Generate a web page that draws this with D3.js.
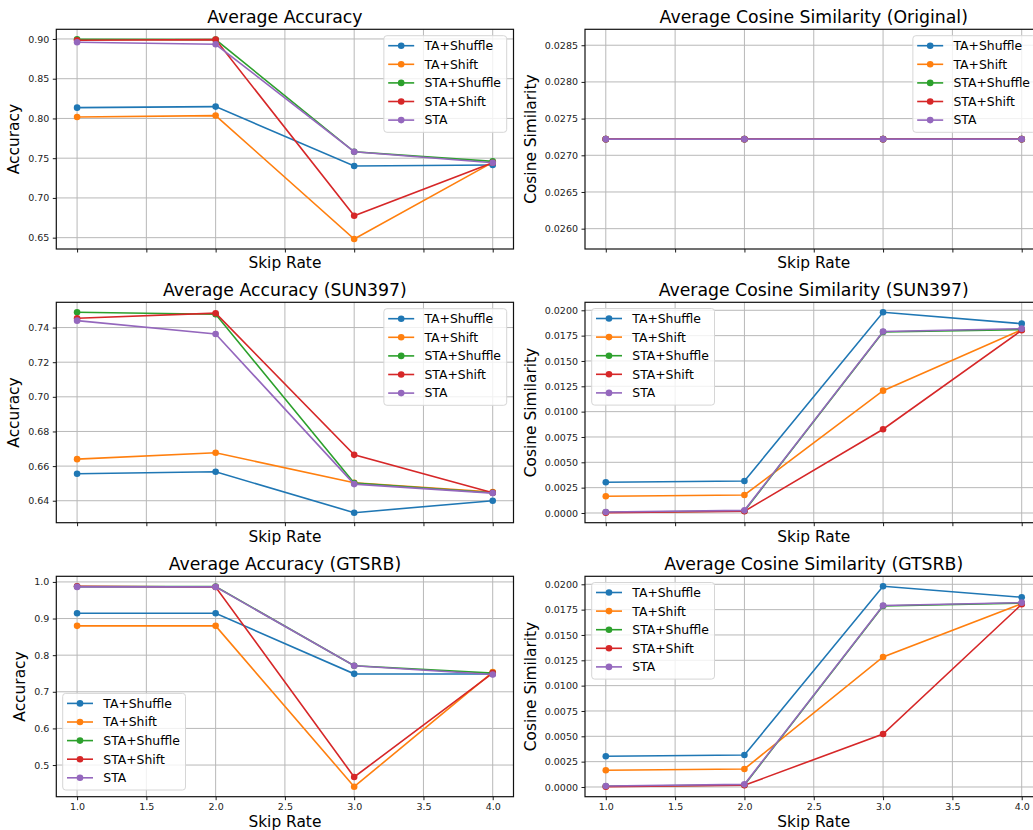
<!DOCTYPE html>
<html lang="en">
<head>
<meta charset="utf-8">
<title>Skip rate comparison</title>
<script src="https://cdn.jsdelivr.net/npm/d3@7"></script>
<style>
  html, body { margin: 0; padding: 0; background: #fff; overflow: hidden; }
  svg { display: block; }
</style>
</head>
<body>
<script>
  var W = 1033, H = 830;
  var FONT = "DejaVu Sans";

  // ---- data ----
  var skipRates = [1, 2, 3, 4];
  var series = ["TA+Shuffle", "TA+Shift", "STA+Shuffle", "STA+Shift", "STA"];
  var colors = ["#1f77b4", "#ff7f0e", "#2ca02c", "#d62728", "#9467bd"];

  var accAvg = [
    [0.8136, 0.8149, 0.7402, 0.7414],
    [0.8019, 0.8036, 0.6483, 0.7447],
    [0.8996, 0.8992, 0.7581, 0.7460],
    [0.8983, 0.8992, 0.6775, 0.7443],
    [0.8958, 0.8933, 0.7581, 0.7443]
  ];
  var cosOrig = [
    [0.02722, 0.02722, 0.02722, 0.02722],
    [0.02722, 0.02722, 0.02722, 0.02722],
    [0.02722, 0.02722, 0.02722, 0.02722],
    [0.02722, 0.02722, 0.02722, 0.02722],
    [0.02722, 0.02722, 0.02722, 0.02722]
  ];
  var accSun = [
    [0.6556, 0.6567, 0.6331, 0.6400],
    [0.6640, 0.6677, 0.6504, 0.6450],
    [0.7488, 0.7477, 0.6502, 0.6446],
    [0.7454, 0.7483, 0.6665, 0.6446],
    [0.7440, 0.7363, 0.6496, 0.6444]
  ];
  var cosSun = [
    [0.00303, 0.00316, 0.01980, 0.01868],
    [0.00165, 0.00178, 0.01207, 0.01809],
    [0.00007, 0.00020, 0.01786, 0.01810],
    [0.00003, 0.00017, 0.00826, 0.01803],
    [0.00010, 0.00026, 0.01790, 0.01819]
  ];
  var accGts = [
    [0.9145, 0.9145, 0.7490, 0.7485],
    [0.8800, 0.8800, 0.4409, 0.7536],
    [0.9873, 0.9873, 0.7710, 0.7510],
    [0.9880, 0.9860, 0.4673, 0.7510],
    [0.9864, 0.9864, 0.7710, 0.7473]
  ];
  var cosGts = [
    [0.00303, 0.00316, 0.01980, 0.01872],
    [0.00165, 0.00178, 0.01283, 0.01809],
    [0.00007, 0.00020, 0.01786, 0.01815],
    [0.00003, 0.00017, 0.00523, 0.01803],
    [0.00010, 0.00026, 0.01790, 0.01819]
  ];

  var xTicks = [1.0, 1.5, 2.0, 2.5, 3.0, 3.5, 4.0];
  var yTicksAccAvg = [0.65, 0.70, 0.75, 0.80, 0.85, 0.90];
  var yTicksCosOrig = [0.0260, 0.0265, 0.0270, 0.0275, 0.0280, 0.0285];
  var yTicksAccSun = [0.64, 0.66, 0.68, 0.70, 0.72, 0.74];
  var yTicksCos = [0.0, 0.0025, 0.0050, 0.0075, 0.0100, 0.0125, 0.0150, 0.0175, 0.0200];
  var yTicksAccGts = [0.5, 0.6, 0.7, 0.8, 0.9, 1.0];

  // ---- layout ----
  var cols = [[56.3, 513.5], [585, 1042.5]];
  var rows = [[29.3, 249], [302.3, 522.7], [576.3, 796.7]];

  var panels = [
    {title: "Average Accuracy", ylab: "Accuracy", data: accAvg, ticks: yTicksAccAvg, fmt: ".2f", leg: "ur", c: 0, r: 0},
    {title: "Average Cosine Similarity (Original)", ylab: "Cosine Similarity", data: cosOrig, ticks: yTicksCosOrig, fmt: ".4f", leg: "ur", c: 1, r: 0},
    {title: "Average Accuracy (SUN397)", ylab: "Accuracy", data: accSun, ticks: yTicksAccSun, fmt: ".2f", leg: "ur", c: 0, r: 1},
    {title: "Average Cosine Similarity (SUN397)", ylab: "Cosine Similarity", data: cosSun, ticks: yTicksCos, fmt: ".4f", leg: "ul", c: 1, r: 1},
    {title: "Average Accuracy (GTSRB)", ylab: "Accuracy", data: accGts, ticks: yTicksAccGts, fmt: ".1f", leg: "ll", c: 0, r: 2},
    {title: "Average Cosine Similarity (GTSRB)", ylab: "Cosine Similarity", data: cosGts, ticks: yTicksCos, fmt: ".4f", leg: "ul", c: 1, r: 2}
  ];

  // matplotlib-like auto limits (5% margins, expand flat data)
  function autoDomain(vals) {
    var lo = d3.min(vals), hi = d3.max(vals);
    if (hi - lo < 1e-12) { lo = lo - 0.05 * Math.abs(lo); hi = hi + 0.05 * Math.abs(hi); }
    var m = (hi - lo) * 0.05;
    return [lo - m, hi + m];
  }

  var svg = d3.select("body").append("svg")
      .attr("width", W)
      .attr("height", H);

  panels.forEach(function(p) {
    var x0 = cols[p.c][0], x1 = cols[p.c][1];
    var y0 = rows[p.r][0], y1 = rows[p.r][1];
    var bottomRow = p.r === 2;

    var x = d3.scaleLinear().domain(autoDomain(skipRates)).range([x0, x1]);
    var y = d3.scaleLinear().domain(autoDomain(d3.merge(p.data))).range([y1, y0]);

    var g = svg.append("g").attr("class", "panel");

    // grid
    g.append("g").selectAll("line").data(xTicks).enter().append("line")
      .attr("x1", function(d) { return x(d); }).attr("x2", function(d) { return x(d); })
      .attr("y1", y0).attr("y2", y1)
      .attr("stroke", "#b8b8b8").attr("stroke-width", 1);
    g.append("g").selectAll("line").data(p.ticks).enter().append("line")
      .attr("y1", function(d) { return y(d); }).attr("y2", function(d) { return y(d); })
      .attr("x1", x0).attr("x2", x1)
      .attr("stroke", "#b8b8b8").attr("stroke-width", 1);

    // axes
    var xa = g.append("g").attr("transform", "translate(0," + y1 + ")")
      .call(d3.axisBottom(x).tickValues(xTicks).tickSize(3.5).tickPadding(3.5)
        .tickFormat(bottomRow ? d3.format(".1f") : function() { return ""; }));
    var ya = g.append("g").attr("transform", "translate(" + x0 + ",0)")
      .call(d3.axisLeft(y).tickValues(p.ticks).tickSize(3.5).tickPadding(3.5)
        .tickFormat(d3.format(p.fmt)));
    [xa, ya].forEach(function(a) {
      a.attr("font-family", FONT).attr("font-size", 9.5);
      a.select(".domain").remove();
      a.selectAll(".tick line").attr("stroke", "#000").attr("stroke-width", 0.9);
      a.selectAll(".tick text").attr("fill", "#222");
    });

    // series
    var line = d3.line()
      .x(function(d, i) { return x(skipRates[i]); })
      .y(function(d) { return y(d); });

    p.data.forEach(function(vals, si) {
      var sg = g.append("g");
      sg.append("path").datum(vals)
        .attr("d", line)
        .attr("fill", "none")
        .attr("stroke", colors[si])
        .attr("stroke-width", 1.6);
      sg.selectAll("circle").data(vals).enter().append("circle")
        .attr("cx", function(d, i) { return x(skipRates[i]); })
        .attr("cy", function(d) { return y(d); })
        .attr("r", 3.3)
        .attr("fill", colors[si]);
    });

    // spines
    g.append("rect")
      .attr("x", x0).attr("y", y0)
      .attr("width", x1 - x0).attr("height", y1 - y0)
      .attr("fill", "none").attr("stroke", "#111").attr("stroke-width", 1.2);

    // title
    g.append("text")
      .attr("x", (x0 + x1) / 2).attr("y", y0 - 6)
      .attr("text-anchor", "middle")
      .attr("font-family", FONT).attr("font-size", 17.3)
      .attr("fill", "#000")
      .text(p.title);

    // x label (bottom row sits against the page edge, as in the reference)
    var xlabY = bottomRow ? 827 : y1 + 19;
    g.append("text")
      .attr("x", (x0 + x1) / 2).attr("y", xlabY)
      .attr("text-anchor", "middle")
      .attr("font-family", FONT).attr("font-size", 15.4)
      .attr("fill", "#000")
      .text("Skip Rate");

    // y label, left of tick labels (bbox is in the axis group's own coords)
    var tb = ya.node().getBBox();
    var ylx = x0 + tb.x - 5 - 0.24 * 15.4;
    g.append("text")
      .attr("transform", "translate(" + ylx + "," + ((y0 + y1) / 2) + ") rotate(-90)")
      .attr("text-anchor", "middle")
      .attr("font-family", FONT).attr("font-size", 15.4)
      .attr("fill", "#000")
      .text(p.ylab);

    // legend
    var fs = 12.4, rowH = 18.6, padL = 4.3, handle = 26, gap = 10.3, padR = 5.7;
    var lg = g.append("g");
    var box = lg.append("rect")
      .attr("rx", 3).attr("ry", 3)
      .attr("fill", "#fff").attr("fill-opacity", 0.8)
      .attr("stroke", "#d6d6d6").attr("stroke-width", 1);
    var maxW = 0;
    series.forEach(function(name, si) {
      var cy = 10 + si * rowH;
      lg.append("line")
        .attr("x1", padL).attr("x2", padL + handle)
        .attr("y1", cy).attr("y2", cy)
        .attr("stroke", colors[si]).attr("stroke-width", 1.6);
      lg.append("circle")
        .attr("cx", padL + handle / 2).attr("cy", cy).attr("r", 3.3)
        .attr("fill", colors[si]);
      var t = lg.append("text")
        .attr("x", padL + handle + gap).attr("y", cy + 4.4)
        .attr("font-family", FONT).attr("font-size", fs)
        .attr("fill", "#000")
        .text(name);
      maxW = Math.max(maxW, t.node().getComputedTextLength());
    });
    var bw = padL + handle + gap + maxW + padR;
    var bh = 96.6;
    box.attr("width", bw).attr("height", bh);
    var lx, ly;
    if (p.leg === "ur") { lx = x1 - 6.8 - bw; ly = y0 + 6.4; }
    else if (p.leg === "ul") { lx = x0 + 6.7; ly = y0 + 6.2; }
    else { lx = x0 + 6.4; ly = y1 - 6.7 - bh; }
    lg.attr("transform", "translate(" + lx + "," + ly + ")");
  });
</script>
</body>
</html>
